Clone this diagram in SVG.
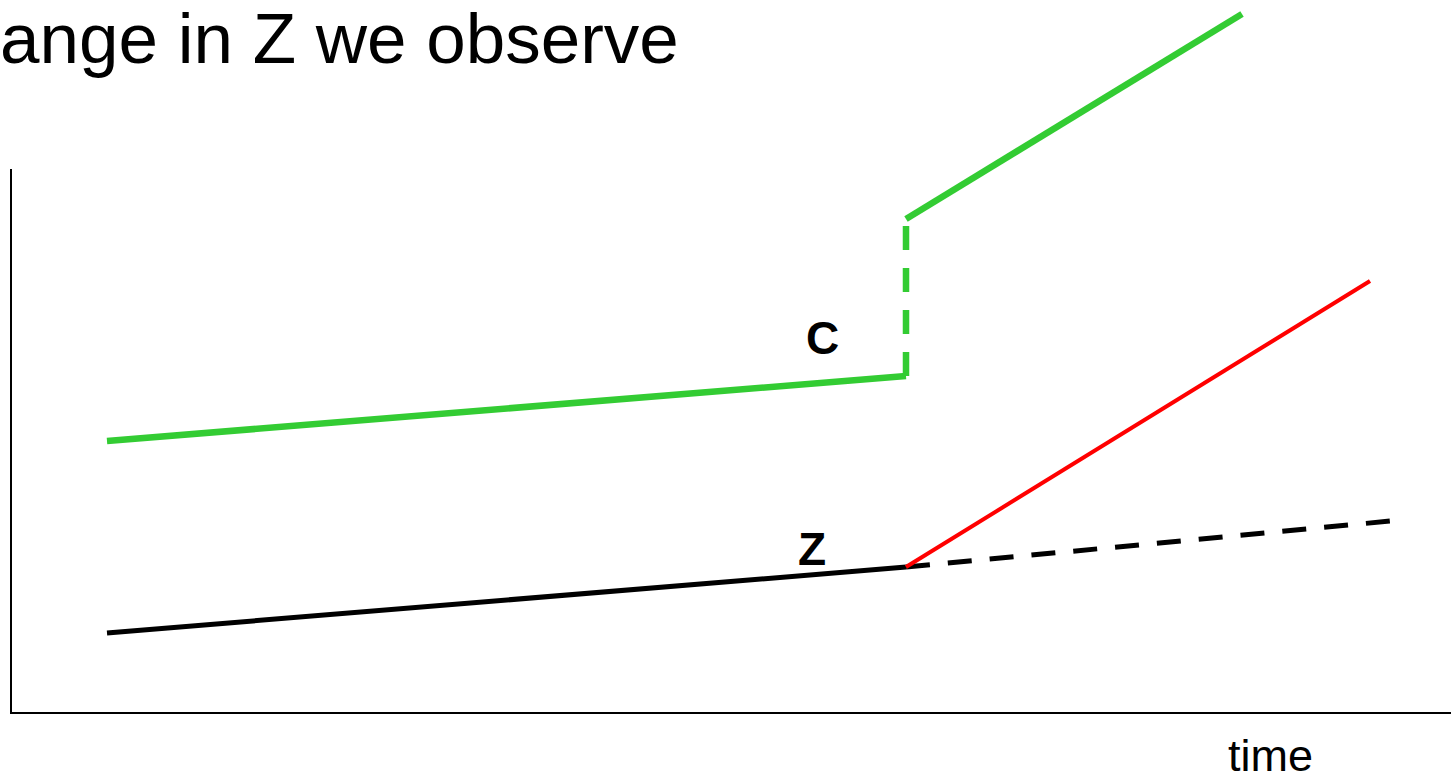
<svg xmlns="http://www.w3.org/2000/svg" width="1451" height="782" viewBox="0 0 1451 782">
<style>
.t{font-family:"Liberation Sans",Arial,sans-serif;fill:#000}
.g{stroke:#33cc33;stroke-width:6.5;fill:none}
.k{stroke:#000;stroke-width:5;fill:none}
.d{stroke-dasharray:24 18}
</style>
<rect width="1451" height="782" fill="#fff"/>
<text class="t" x="0" y="63" font-size="71">ange in Z we observe</text>
<g id="axes">
<path d="M11,169 V713 H1451" stroke="#000" stroke-width="2" fill="none"/>
<text class="t" x="1228" y="771" font-size="45">time</text>
</g>
<g id="connectors">
<path class="g" d="M107,441 L906,376"/>
<path class="g d" d="M906,376 V221"/>
<path class="g" d="M906,219 L1242,14"/>
<path class="k" d="M107,633 L906,567"/>
<path class="k d" d="M906,567 L1391,521"/>
<path d="M906,567 L1370,281" stroke="#ff0000" stroke-width="4" fill="none"/>
</g>
<g id="C"><text class="t" x="806" y="354" font-size="46" font-weight="bold">C</text></g>
<g id="Z"><text class="t" x="798" y="565" font-size="46" font-weight="bold">Z</text></g>
</svg>
